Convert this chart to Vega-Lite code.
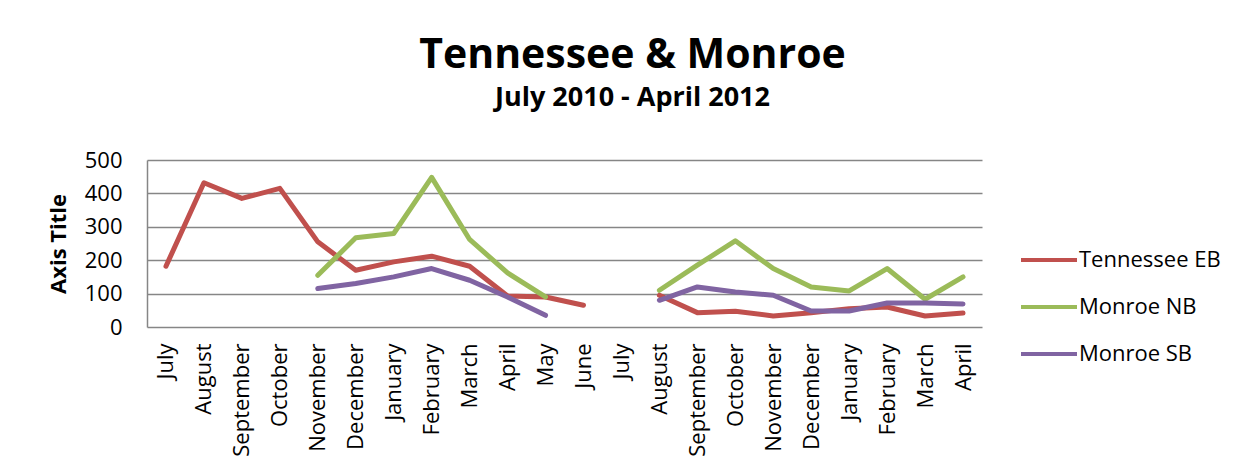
{
  "$schema": "https://vega.github.io/schema/vega-lite/v6.json",
  "autosize": "none",
  "width": 835,
  "height": 167,
  "padding": {"left": 147, "top": 160, "right": 267, "bottom": 149},
  "background": "white",
  "title": {
    "text": "Tennessee & Monroe",
    "subtitle": "July 2010 - April 2012",
    "anchor": "middle",
    "dx": 68,
    "offset": 37,
    "font": "Open Sans",
    "fontSize": 41,
    "fontWeight": "bold",
    "color": "black",
    "subtitleFont": "Open Sans",
    "subtitleFontSize": 27,
    "subtitleFontWeight": "bold",
    "subtitleColor": "black",
    "subtitlePadding": 8
  },
  "data": {
    "values": [
      {"period": "July 2010", "Tennessee EB": 182, "Monroe NB": null, "Monroe SB": null},
      {"period": "August 2010", "Tennessee EB": 432, "Monroe NB": null, "Monroe SB": null},
      {"period": "September 2010", "Tennessee EB": 385, "Monroe NB": null, "Monroe SB": null},
      {"period": "October 2010", "Tennessee EB": 415, "Monroe NB": null, "Monroe SB": null},
      {"period": "November 2010", "Tennessee EB": 255, "Monroe NB": 155, "Monroe SB": 115},
      {"period": "December 2010", "Tennessee EB": 170, "Monroe NB": 267, "Monroe SB": 130},
      {"period": "January 2011", "Tennessee EB": 195, "Monroe NB": 280, "Monroe SB": 150},
      {"period": "February 2011", "Tennessee EB": 212, "Monroe NB": 448, "Monroe SB": 175},
      {"period": "March 2011", "Tennessee EB": 182, "Monroe NB": 262, "Monroe SB": 140},
      {"period": "April 2011", "Tennessee EB": 93, "Monroe NB": 162, "Monroe SB": 90},
      {"period": "May 2011", "Tennessee EB": 90, "Monroe NB": 90, "Monroe SB": 35},
      {"period": "June 2011", "Tennessee EB": 65, "Monroe NB": null, "Monroe SB": null},
      {"period": "July 2011", "Tennessee EB": null, "Monroe NB": null, "Monroe SB": null},
      {"period": "August 2011", "Tennessee EB": 95, "Monroe NB": 110, "Monroe SB": 80},
      {"period": "September 2011", "Tennessee EB": 43, "Monroe NB": 185, "Monroe SB": 120},
      {"period": "October 2011", "Tennessee EB": 47, "Monroe NB": 258, "Monroe SB": 105},
      {"period": "November 2011", "Tennessee EB": 33, "Monroe NB": 175, "Monroe SB": 95},
      {"period": "December 2011", "Tennessee EB": 43, "Monroe NB": 120, "Monroe SB": 48},
      {"period": "January 2012", "Tennessee EB": 55, "Monroe NB": 108, "Monroe SB": 48},
      {"period": "February 2012", "Tennessee EB": 60, "Monroe NB": 175, "Monroe SB": 72},
      {"period": "March 2012", "Tennessee EB": 33, "Monroe NB": 83, "Monroe SB": 72},
      {"period": "April 2012", "Tennessee EB": 42, "Monroe NB": 150, "Monroe SB": 69}
    ]
  },
  "transform": [
    {"fold": ["Tennessee EB", "Monroe NB", "Monroe SB"], "as": ["series", "count"]}
  ],
  "mark": {"type": "line", "strokeWidth": 5, "strokeJoin": "round", "strokeCap": "round"},
  "encoding": {
    "x": {
      "field": "period",
      "type": "ordinal",
      "sort": null,
      "scale": {"type": "point", "padding": 0.5},
      "axis": {
        "title": null,
        "domain": false,
        "ticks": false,
        "grid": false,
        "labelAngle": 270,
        "labelAlign": "right",
        "labelBaseline": "middle",
        "labelPadding": 16,
        "labelFont": "Open Sans",
        "labelFontSize": 22,
        "labelColor": "black",
        "labelExpr": "split(datum.value, ' ')[0]"
      }
    },
    "y": {
      "field": "count",
      "type": "quantitative",
      "scale": {"domain": [0, 500], "nice": false},
      "axis": {
        "title": "Axis Title",
        "titleFont": "Open Sans",
        "titleFontSize": 22,
        "titleFontWeight": "bold",
        "titleColor": "black",
        "titlePadding": 14,
        "values": [0, 100, 200, 300, 400, 500],
        "ticks": false,
        "domain": true,
        "domainColor": "#868686",
        "domainWidth": 1.5,
        "grid": true,
        "gridColor": "#868686",
        "gridWidth": 1.5,
        "gridOpacity": 1,
        "labelPadding": 25,
        "labelFont": "Open Sans",
        "labelFontSize": 22,
        "labelColor": "black"
      }
    },
    "color": {
      "field": "series",
      "type": "nominal",
      "scale": {
        "domain": ["Tennessee EB", "Monroe NB", "Monroe SB"],
        "range": ["#C0504D", "#9BBB59", "#8064A2"]
      },
      "legend": {
        "title": null,
        "orient": "none",
        "legendX": 886,
        "legendY": 84,
        "padding": 0,
        "symbolType": "M-2,0H2",
        "symbolSize": 784,
        "symbolStrokeWidth": 4,
        "labelOffset": 14,
        "rowPadding": 20,
        "labelFont": "Open Sans",
        "labelFontSize": 22,
        "labelColor": "black"
      }
    }
  },
  "config": {
    "view": {"stroke": null}
  }
}
